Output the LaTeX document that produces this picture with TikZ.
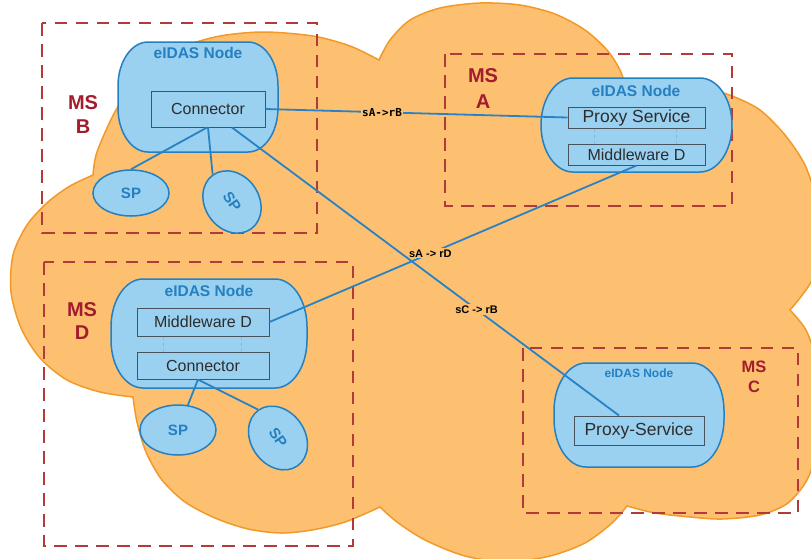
\documentclass[tikz,border=0pt]{standalone}
\usepackage{fontspec}
\setmainfont{Liberation Sans}
\newfontfamily\linkmono{DejaVu Sans Mono}
\usetikzlibrary{calc,shapes.geometric}

\definecolor{cloudfill}{RGB}{253,192,112}
\definecolor{cloudline}{RGB}{242,153,40}
\definecolor{nodefill}{RGB}{154,208,240}
\definecolor{nodeline}{RGB}{36,128,192}
\definecolor{boxline}{RGB}{72,82,92}
\definecolor{boxtext}{RGB}{45,45,45}
\definecolor{msred}{RGB}{162,28,46}
\definecolor{msdash}{RGB}{178,58,58}
\definecolor{linkblue}{RGB}{40,130,195}

% rounded container of an eIDAS node: x1, y1, x2, y2, corner x radius, corner y radius
\newcommand\eidasshape[6]{%
  \filldraw[eidas] ({#1+#5},#2) -- ({#3-#5},#2)
    .. controls ({#3-0.4477*#5},#2) and (#3,{#2+0.4477*#6}) .. (#3,{#2+#6})
    -- (#3,{#4-#6})
    .. controls (#3,{#4-0.4477*#6}) and ({#3-0.4477*#5},#4) .. ({#3-#5},#4)
    -- ({#1+#5},#4)
    .. controls ({#1+0.4477*#5},#4) and (#1,{#4-0.4477*#6}) .. (#1,{#4-#6})
    -- (#1,{#2+#6})
    .. controls (#1,{#2+0.4477*#6}) and ({#1+0.4477*#5},#2) .. ({#1+#5},#2)
    -- cycle;}

\begin{document}
\begin{tikzpicture}[x=1pt,y=-1pt,
  cloud/.style={fill=cloudfill, draw=cloudline, line width=1.5pt},
  msbox/.style={draw=msdash, line width=2pt, dash pattern=on 12.5pt off 8.5pt},
  mslabel/.style={text=msred, align=center, inner sep=0pt},
  eidas/.style={fill=nodefill, draw=nodeline, line width=1.5pt},
  eidastitle/.style={text=nodeline, inner sep=0pt, font=\bfseries\fontsize{15.5}{18}\selectfont},
  part/.style={draw=boxline, fill=nodefill, line width=1pt, text=boxtext, inner sep=0pt,
               font=\fontsize{16}{19}\selectfont},
  proxy/.style={part, font=\fontsize{17.5}{20}\selectfont},
  sp/.style={ellipse, draw=nodeline, fill=nodefill, line width=1.5pt, text=nodeline, inner sep=0pt,
             font=\bfseries\fontsize{15}{18}\selectfont},
  partsep/.style={draw=nodeline!55, dashed, line width=0.8pt},
  link/.style={draw=linkblue, line width=1.8pt},
  linklabel/.style={fill=cloudfill, inner sep=1.2pt, text=black, font=\bfseries\fontsize{11}{13}\selectfont},
  monolabel/.style={fill=cloudfill, inner sep=1.2pt, text=black, font=\linkmono\bfseries\fontsize{11}{13}\selectfont}
]
\path[use as bounding box] (0,0) rectangle (811,558);
\clip (0,0) rectangle (811,558);

% the network cloud, lobe by lobe
\filldraw[cloud]
  plot[smooth] coordinates {(93,175) (97,152) (116,110) (140,78) (171,52) (215,37) (262,32) (313,36) (350,46) (379,60)}
  -- plot[smooth] coordinates {(379,60) (390,40) (410,20) (440,8) (480,3) (520,5) (555,14) (585,30) (607,50) (620,70) (626,88)}
  -- plot[smooth] coordinates {(626,88) (660,86) (700,87) (732,96) (760,110) (785,135) (805,165) (816,200) (820,240) (812,280) (790,310)}
  -- plot[smooth] coordinates {(790,310) (806,330) (816,360) (821,400) (819,440) (808,478) (788,503) (760,515) (722,519) (690,517) (655,513) (627,506)}
  -- plot[smooth] coordinates {(627,506) (612,523) (585,543) (550,556) (508,562) (465,556) (425,540) (397,522) (380,507)}
  -- plot[smooth] coordinates {(380,507) (345,522) (312,530) (281,533) (248,529) (215,518) (185,502) (162,480) (146,452) (137,422) (133,397)}
  -- plot[smooth] coordinates {(133,397) (100,392) (67,380) (40,358) (21,328) (11,292) (13,255) (27,225) (48,202) (70,186) (93,175)}
  -- cycle;

% member state frames
\draw[msbox] (42,23) rectangle (317,233);
\draw[msbox] (445,54) rectangle (732,206);
\draw[msbox] (44,262) rectangle (353,546);
\draw[msbox] (523,348) rectangle (798,513);

\node[mslabel, font=\bfseries\fontsize{20}{24}\selectfont] (msB) at (83,115) {MS\\B};
\node[mslabel, font=\bfseries\fontsize{20}{26}\selectfont] (msA) at (483,89) {MS\\A};
\node[mslabel, font=\bfseries\fontsize{20}{23}\selectfont] (msD) at (82,321.5) {MS\\D};
\node[mslabel, font=\bfseries\fontsize{16.5}{20}\selectfont] (msC) at (754,377) {MS\\C};

% eIDAS node containers
\eidasshape{118}{42}{278}{152}{30}{44}
\eidasshape{541}{78}{732}{172}{32}{47}
\eidasshape{111}{279}{307}{388}{32}{48}
\eidasshape{554}{363}{724}{467}{32}{48}

\node[eidastitle] (titleB) at (198,53) {eIDAS Node};
\node[eidastitle] (titleA) at (636,91) {eIDAS Node};
\node[eidastitle] (titleD) at (209,291) {eIDAS Node};
\node[eidastitle, font=\bfseries\fontsize{12}{14}\selectfont] (titleC) at (639,373) {eIDAS Node};

% node components
\node[part, minimum width=114pt, minimum height=36pt] (connB) at (208,109) {Connector};
\node[proxy, minimum width=137pt, minimum height=21pt] (psA) at (636.5,117.5) {Proxy Service};
\node[part, minimum width=137pt, minimum height=21pt] (mwA) at (636.5,154.5) {Middleware D};
\node[part, minimum width=132pt, minimum height=28pt] (mwD) at (203,322) {Middleware D};
\node[part, minimum width=132pt, minimum height=27pt] (connD) at (203,365.5) {Connector};
\node[proxy, minimum width=130pt, minimum height=29pt] (psC) at (639,430.5) {Proxy-Service};

\draw[partsep] ($(psA.south)+(-42.5,0)$) -- ($(mwA.north)+(-42.5,0)$);
\draw[partsep] ($(psA.south)+(39.5,0)$) -- ($(mwA.north)+(39.5,0)$);
\draw[partsep] ($(mwD.south)+(-40,0)$) -- ($(connD.north)+(-40,0)$);
\draw[partsep] ($(mwD.south)+(38,0)$) -- ($(connD.north)+(38,0)$);

% service providers
\node[sp, minimum width=76pt, minimum height=46pt] (sp1) at (131,193) {SP};
\node[sp, minimum width=66pt, minimum height=54pt, rotate=-55] (sp2) at (232,202) {SP};
\node[sp, minimum width=76pt, minimum height=50pt] (sp3) at (178,430) {SP};
\node[sp, minimum width=68pt, minimum height=54pt, rotate=-55] (sp4) at (278,438) {SP};

\draw[link] ($(connB.south)+(-1,0)$) -- (sp1.north);
\draw[link] (connB.south) -- (sp2.west);
\draw[link] ($(connD.south)+(-5,0)$) -- (sp3);
\draw[link] ($(connD.south)+(-5,0)$) -- (sp4.west);

% cross-border links
\draw[link] (connB.east) -- node[pos=0.386, monolabel] (lblBA) {sA->rB} (psA.west);
\draw[link] (mwA.south) -- node[pos=0.562, linklabel] (lblAD) {sA -> rD} (mwD.east);
\draw[link] ($(connB.south)+(24,0)$) -- node[pos=0.632, linklabel] (lblCB) {sC -> rB} ($(psC.north)+(-20,0)$);
\end{tikzpicture}
\end{document}
